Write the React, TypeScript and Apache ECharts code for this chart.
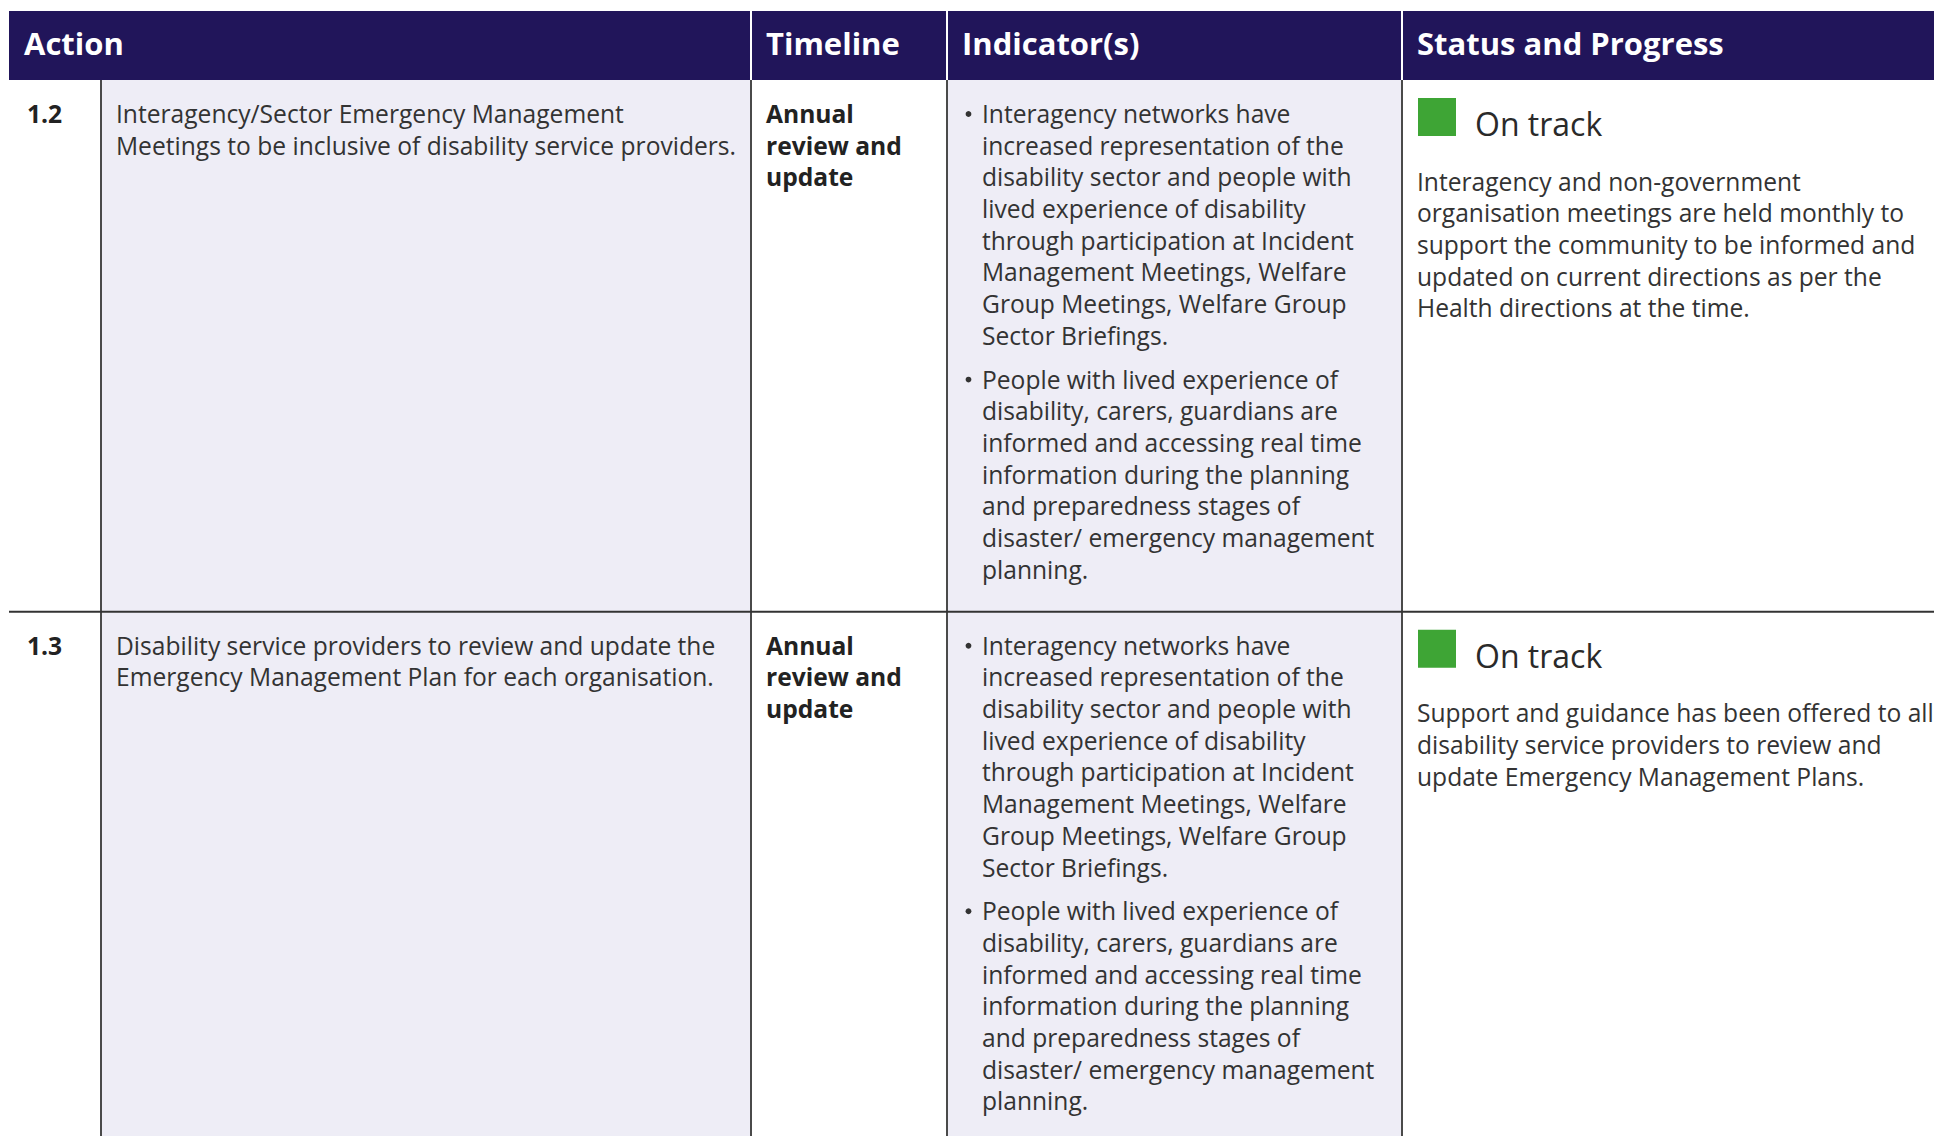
import React, { useEffect, useRef } from "react";
import * as echarts from "echarts";

// ---------- data ----------
const HEADERS = ["Action", "Timeline", "Indicator(s)", "Status and Progress"];
const ACTION_IDS = ["1.2", "1.3"];
const ACTION_TEXT = [
  ["Interagency/Sector Emergency Management", "Meetings to be inclusive of disability service providers."],
  ["Disability service providers to review and update the", "Emergency Management Plan for each organisation."],
];
const TIMELINE = [
  ["Annual", "review and", "update"],
  ["Annual", "review and", "update"],
];
const INDICATOR_A = [
  "Interagency networks have",
  "increased representation of the",
  "disability sector and people with",
  "lived experience of disability",
  "through participation at Incident",
  "Management Meetings, Welfare",
  "Group Meetings, Welfare Group",
  "Sector Briefings.",
];
const INDICATOR_B = [
  "People with lived experience of",
  "disability, carers, guardians are",
  "informed and accessing real time",
  "information during the planning",
  "and preparedness stages of",
  "disaster/ emergency management",
  "planning.",
];
const INDICATORS = [
  [INDICATOR_A, INDICATOR_B],
  [INDICATOR_A, INDICATOR_B],
];
const STATUS = ["On track", "On track"];
const PROGRESS = [
  [
    "Interagency and non-government",
    "organisation meetings are held monthly to",
    "support the community to be informed and",
    "updated on current directions as per the",
    "Health directions at the time.",
  ],
  [
    "Support and guidance has been offered to all",
    "disability service providers to review and",
    "update Emergency Management Plans.",
  ],
];

// ---------- layout / style ----------
const W = 1934;
const H = 1136;
const LEFT = 9;
const HEAD_TOP = 11;
const HEAD_BOT = 80;
const COLS = [101, 751, 947, 1402];
const ROW_H = 531.7;
const NAVY = "#21155a";
const LAV = "#eeedf6";
const LINE = "#4a4a4a";
const TXT = "#333333";
const GREEN = "#3ea535";
const FONT = "'Open Sans', 'Noto Sans', sans-serif";
const HFONT = "'Open Sans', sans-serif";
const FS = 24.6;
const AFS = 24.6;
const HFS = 31;
const LH = 31.7;
const CENT = 0.387; // central baseline offset (em)

function topY(baseline: number, fs: number, lh: number) {
  return baseline - lh / 2 - CENT * fs;
}

function buildGraphics() {
  const g: any[] = [];
  // backgrounds
  g.push({ type: "rect", shape: { x: 0, y: 0, width: W, height: H }, style: { fill: "#fff" }, silent: true });
  g.push({ type: "rect", shape: { x: COLS[0], y: HEAD_BOT, width: COLS[1] - COLS[0], height: H - HEAD_BOT }, style: { fill: LAV } });
  g.push({ type: "rect", shape: { x: COLS[2], y: HEAD_BOT, width: COLS[3] - COLS[2], height: H - HEAD_BOT }, style: { fill: LAV } });
  // header
  g.push({ type: "rect", shape: { x: LEFT, y: HEAD_TOP, width: W - LEFT, height: HEAD_BOT - HEAD_TOP }, style: { fill: NAVY } });
  const headX = [LEFT + 15, COLS[1] + 15, COLS[2] + 15, COLS[3] + 15];
  HEADERS.forEach((h, i) => {
    g.push({
      type: "text",
      x: headX[i],
      y: 55 - CENT * HFS,
      style: { text: h, fill: "#ffffff", fontSize: HFS, fontWeight: "bold", fontFamily: HFONT, verticalAlign: "middle" },
    });
  });
  [COLS[1], COLS[2], COLS[3]].forEach((x) => {
    g.push({ type: "line", shape: { x1: x, y1: HEAD_TOP, x2: x, y2: HEAD_BOT }, style: { stroke: "#ffffff", lineWidth: 2 } });
  });
  // body vertical lines
  COLS.forEach((x) => {
    g.push({ type: "line", shape: { x1: x, y1: HEAD_BOT, x2: x, y2: H }, style: { stroke: LINE, lineWidth: 2 } });
  });
  // row divider
  g.push({ type: "line", shape: { x1: LEFT, y1: HEAD_BOT + ROW_H, x2: W, y2: HEAD_BOT + ROW_H }, style: { stroke: "#333", lineWidth: 2 } });

  ACTION_IDS.forEach((id, r) => {
    const off = r * ROW_H;
    const B1 = 123 + off;
    g.push({
      type: "text", x: 27, y: topY(B1, FS, LH),
      style: { text: id, fill: "#222", fontSize: FS, fontWeight: "bold", fontFamily: FONT, lineHeight: LH, verticalAlign: "top" },
    });
    g.push({
      type: "text", x: 116, y: topY(B1, AFS, LH),
      style: { text: ACTION_TEXT[r].join("\n"), fill: TXT, fontSize: AFS, fontFamily: FONT, lineHeight: LH, verticalAlign: "top" },
    });
    g.push({
      type: "text", x: 766, y: topY(B1, FS, LH),
      style: { text: TIMELINE[r].join("\n"), fill: "#222", fontSize: FS, fontWeight: "bold", fontFamily: FONT, lineHeight: LH, verticalAlign: "top" },
    });
    let b = B1;
    INDICATORS[r].forEach((lines) => {
      g.push({ type: "circle", shape: { cx: 968.5, cy: b - 9, r: 2.9 }, style: { fill: TXT } });
      g.push({
        type: "text", x: 982, y: topY(b, FS, LH),
        style: { text: lines.join("\n"), fill: TXT, fontSize: FS, fontFamily: FONT, lineHeight: LH, verticalAlign: "top" },
      });
      b += lines.length * LH + 12;
    });
    // status
    g.push({ type: "rect", shape: { x: 1418, y: 98 + off, width: 38, height: 38 }, style: { fill: GREEN } });
    g.push({
      type: "text", x: 1475, y: 136 + off - CENT * 32,
      style: { text: STATUS[r], fill: "#2a2a2a", fontSize: 32, fontFamily: FONT, verticalAlign: "middle" },
    });
    g.push({
      type: "text", x: 1417, y: topY(190.7 + off, FS, LH),
      style: { text: PROGRESS[r].join("\n"), fill: TXT, fontSize: FS, fontFamily: FONT, lineHeight: LH, verticalAlign: "top" },
    });
  });
  return g;
}

export default function App() {
  const ref = useRef<HTMLDivElement>(null);
  useEffect(() => {
    if (!ref.current) return;
    const chart = echarts.init(ref.current, null, { renderer: "svg" });
    chart.setOption({
      animation: false,
      backgroundColor: "#ffffff",
      graphic: { elements: buildGraphics() },
    });
    return () => chart.dispose();
  }, []);
  return <div ref={ref} style={{ position: "absolute", left: 0, top: 0, width: W, height: H }} />;
}
